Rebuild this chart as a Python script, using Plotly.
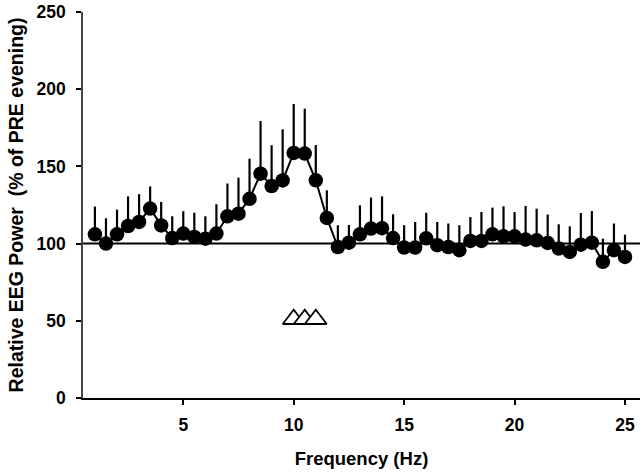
import plotly.graph_objects as go

freq = [1 + 0.5 * i for i in range(49)]
power = [106, 100, 106, 111.4, 114, 122.7, 111.8, 103.6, 106.5, 104.3,
         103.2, 106.5, 117.7, 119.4, 129, 145.3, 137.3, 140.9, 158.7, 158.3,
         141, 116.6, 97.8, 100.6, 106, 109.7, 110, 103.6, 97.4, 97.4,
         103.4, 99, 97.8, 95.7, 101.7, 101.7, 106, 104.7, 104.7, 102.6,
         102.1, 100.4, 96.8, 94.6, 99.3, 100.6, 88.2, 95.7, 91.4]
err_top = [124, 116.4, 122, 130.6, 132, 137, 127, 117.7, 121, 120,
           117.7, 125.5, 138.9, 142.7, 155, 179.4, 163.7, 174, 190.4, 187.4,
           163.8, 134.5, 111.9, 112, 124.8, 129.8, 130.6, 119, 111.9, 114,
           120, 114, 113, 111.9, 117.2, 120.5, 123.3, 124.2, 120.5, 124.4,
           122.6, 118.8, 112.5, 111.2, 119.8, 121.1, 103.2, 113, 105.8]
sem = [t - p for t, p in zip(err_top, power)]

sig_freq = [10, 10.5, 11]
sig_level = [51, 51, 51]
baseline = 100

x_ticks = [5, 10, 15, 20, 25]
y_ticks = [0, 50, 100, 150, 200, 250]
x_range = [0.46, 25.68]

font_family = "Liberation Sans, Arial, sans-serif"

fig = go.Figure()
fig.add_trace(go.Scatter(
    x=x_range, y=[baseline, baseline], mode="lines",
    line=dict(color="black", width=2), hoverinfo="skip", showlegend=False))
fig.add_trace(go.Scatter(
    x=freq, y=power, mode="lines+markers",
    line=dict(color="black", width=2),
    marker=dict(color="black", size=14.5, symbol="circle"),
    error_y=dict(type="data", symmetric=False, array=sem,
                 arrayminus=[0] * len(sem), color="black", thickness=2.2, width=0),
    showlegend=False))
fig.add_trace(go.Scatter(
    x=sig_freq, y=sig_level, mode="markers",
    marker=dict(symbol="triangle-up", size=19, color="white",
                line=dict(color="black", width=1.8)),
    showlegend=False))

fig.update_layout(
    width=642, height=476,
    margin=dict(l=83, r=2, t=12, b=78),
    paper_bgcolor="white", plot_bgcolor="white",
    font=dict(family=font_family, color="black", size=17),
    xaxis=dict(range=x_range, tickvals=x_ticks,
               ticktext=[f"<b>{v}</b>" for v in x_ticks],
               ticks="outside", ticklen=5, tickwidth=2, tickcolor="black",
               ticklabelstandoff=5,
               showline=True, linecolor="black", linewidth=2,
               showgrid=False, zeroline=False,
               tickfont=dict(size=17.5, family=font_family),
               title=dict(text="<b>Frequency (Hz)</b>",
                          font=dict(size=18.5, family=font_family), standoff=18)),
    yaxis=dict(range=[0, 250], tickvals=y_ticks,
               ticktext=[f"<b>{v}</b>" for v in y_ticks],
               ticks="outside", ticklen=5, tickwidth=2, tickcolor="black",
               ticklabelstandoff=7,
               showline=True, linecolor="#444444", linewidth=1.5,
               showgrid=False, zeroline=False,
               tickfont=dict(size=17.5, family=font_family),
               title=dict(text="<b>Relative EEG Power  (% of PRE evening)</b>",
                          font=dict(size=19.5, family=font_family), standoff=8)),
)

fig.write_html("out.html", config={"displayModeBar": False},
               post_script="document.body.style.margin='0';")
